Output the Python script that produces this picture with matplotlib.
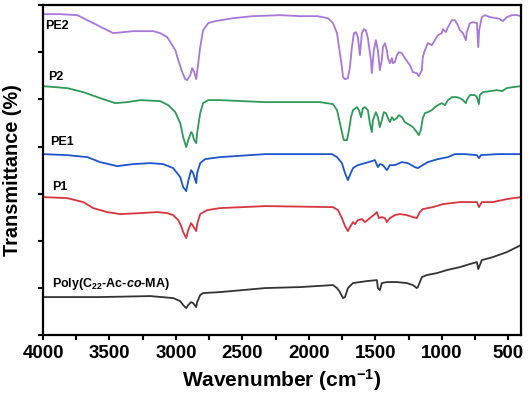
import numpy as np
from matplotlib import pyplot as plt

plt.rcParams['font.family'] = ['Liberation Sans', 'DejaVu Sans']
plt.rcParams['font.weight'] = 'bold'
plt.rcParams['mathtext.fontset'] = 'custom'
plt.rcParams['mathtext.rm'] = 'Liberation Sans:bold'
plt.rcParams['mathtext.bf'] = 'Liberation Sans:bold'
plt.rcParams['mathtext.it'] = 'Liberation Sans:bold:italic'

# spectra (wavenumber, stacked transmittance in arbitrary units)
pe2_wn = [4000, 3870, 3742, 3667, 3592, 3517, 3472, 3397, 3322, 3247, 3171, 3118, 3066, 3005, 2983,
          2953, 2931, 2916, 2893, 2878, 2863, 2848, 2841, 2818, 2796, 2758, 2705, 2570, 2420, 2217,
          2067, 1939, 1857, 1819, 1789, 1774, 1752, 1744, 1729, 1707, 1692, 1677, 1662, 1647, 1632,
          1617, 1602, 1587, 1572, 1557, 1534, 1527, 1512, 1497, 1482, 1467, 1452, 1444, 1429, 1414,
          1406, 1391, 1376, 1369, 1354, 1339, 1324, 1301, 1279, 1241, 1218, 1189, 1174, 1151, 1144,
          1128, 1106, 1076, 1053, 1031, 1001, 993, 971, 955, 925, 903, 880, 865, 842, 820, 813, 790,
          767, 737, 727, 720, 700, 677, 639, 587, 564, 542, 512, 474, 437, 406]
pe2_t = [321, 321, 320, 315, 310, 305, 302, 303, 304, 304, 304, 302, 298, 285, 275,
         263, 256, 255, 260, 267, 263, 256, 263, 288, 305, 312, 314, 317, 319, 320,
         319, 319, 317, 312, 302, 288, 268, 258, 256, 257, 268, 288, 302, 303, 298,
         280, 302, 306, 305, 297, 275, 262, 285, 295, 285, 265, 275, 288, 292, 285,
         277, 272, 277, 272, 273, 280, 283, 282, 277, 270, 263, 262, 259, 265, 278,
         285, 292, 290, 295, 300, 302, 306, 303, 308, 315, 315, 310, 305, 302, 295, 303, 312,
         313, 312, 288, 305, 318, 320, 318, 317, 316, 314, 318, 320, 320, 319]

p2_wn = [4000, 3818, 3697, 3570, 3457, 3367, 3269, 3118, 3058, 3005, 2968, 2946, 2923, 2908, 2886,
         2878, 2863, 2848, 2841, 2818, 2796, 2758, 2668, 2330, 2067, 1917, 1819, 1789, 1767, 1744,
         1737, 1714, 1699, 1684, 1669, 1639, 1624, 1609, 1594, 1579, 1557, 1542, 1527, 1519, 1497,
         1482, 1467, 1452, 1437, 1421, 1406, 1391, 1376, 1361, 1339, 1324, 1301, 1279, 1241, 1218,
         1189, 1174, 1159, 1144, 1128, 1106, 1076, 1053, 1031, 1001, 978, 955, 925, 888, 865, 842,
         820, 813, 790, 752, 737, 722, 715, 692, 639, 587, 549, 512, 467, 406]
p2_t = [249, 247, 243, 237, 232, 233, 235, 234, 230, 223, 212, 198, 188, 195, 203,
        202, 195, 192, 202, 222, 232, 235, 235, 233, 233, 233, 231, 225, 212, 198,
        195, 195, 205, 218, 225, 228, 225, 218, 227, 228, 225, 212, 203, 215, 223,
        218, 208, 215, 223, 222, 217, 213, 218, 215, 217, 220, 218, 213, 210, 208,
        203, 200, 205, 217, 222, 223, 225, 228, 230, 232, 230, 235, 238, 238, 237, 235,
        232, 235, 240, 240, 238, 231, 240, 243, 244, 245, 244, 247, 248, 249]

pe1_wn = [4000, 3818, 3667, 3570, 3442, 3322, 3193, 3096, 3021, 2968, 2946, 2923, 2908, 2886, 2871,
          2848, 2841, 2818, 2781, 2668, 2330, 1827, 1789, 1752, 1729, 1707, 1692, 1669, 1632, 1579,
          1527, 1504, 1482, 1467, 1444, 1414, 1391, 1354, 1301, 1256, 1204, 1181, 1144, 1106, 1031,
          955, 903, 828, 737, 722, 707, 579, 406]
pe1_t = [181, 180, 178, 173, 169, 171, 172, 171, 167, 158, 148, 144, 154, 165, 162,
         152, 162, 172, 176, 178, 181, 181, 178, 172, 162, 155, 160, 167, 170, 172,
         174, 175, 168, 171, 170, 165, 170, 170, 173, 172, 168, 167, 170, 173, 176,
         178, 181, 181, 180, 177, 180, 181, 181]

p1_wn = [4000, 3818, 3697, 3622, 3517, 3419, 3269, 3141, 3066, 3021, 2983, 2961, 2946, 2923, 2908,
         2886, 2871, 2848, 2841, 2818, 2766, 2668, 2330, 1819, 1782, 1752, 1729, 1707, 1692, 1669,
         1654, 1632, 1602, 1579, 1542, 1504, 1489, 1474, 1452, 1429, 1414, 1391, 1354, 1316, 1264,
         1218, 1189, 1166, 1144, 1068, 993, 865, 737, 722, 700, 617, 512, 406]
p1_t = [138, 137, 133, 127, 123, 121, 122, 123, 122, 120, 115, 109, 103, 97, 105,
        112, 109, 104, 111, 121, 125, 127, 129, 128, 125, 117, 109, 104, 108, 113,
        111, 115, 116, 113, 117, 121, 123, 117, 118, 117, 113, 117, 120, 121, 120,
        118, 117, 123, 126, 128, 131, 133, 133, 128, 133, 133, 136, 138]

poly_wn = [4000, 3570, 3193, 3021, 2968, 2946, 2923, 2908, 2886, 2871, 2848, 2841, 2818, 2796, 2668,
           2330, 2067, 1819, 1789, 1767, 1744, 1729, 1707, 1669, 1564, 1489, 1482, 1467, 1452, 1414,
           1339, 1264, 1218, 1189, 1181, 1151, 1114, 1038, 963, 865, 790, 737, 727, 715, 700, 617,
           512, 406]
poly_t = [38, 38, 39, 37, 34, 30, 27, 30, 33, 32, 28, 33, 40, 42, 43,
          47, 48, 50, 47, 43, 37, 38, 47, 52, 54, 55, 47, 45, 52, 53,
          53, 52, 50, 47, 48, 58, 60, 62, 65, 68, 71, 73, 66, 70, 75, 78,
          83, 90]

names = ['PE2', 'P2', 'PE1', 'P1', r'Poly(C$_{22}$-Ac-$\mathit{co}$-MA)']
colors = ['#A777DA', '#2E9A58', '#1D55CF', '#D8343F', '#333333']
label_pos = [(3985, 309), (3962, 258), (3948, 193), (3932, 148), (3932, 51)]

fig = plt.figure(figsize=(5.29, 3.97), dpi=100)
ax = fig.add_axes([0.0813, 0.156, 0.9037, 0.831])

series = [(pe2_wn, pe2_t), (p2_wn, p2_t), (pe1_wn, pe1_t), (p1_wn, p1_t), (poly_wn, poly_t)]
for (wn, t), col in zip(series, colors):
    ax.plot(wn, t, color=col, lw=1.3)

for name, (x, y) in zip(names, label_pos):
    ax.text(x, y, name, fontsize=9, fontweight='bold', ha='left', va='center')

ax.set_xlim(4000, 405)
ax.set_ylim(0, 330)
ax.set_xticks([4000, 3500, 3000, 2500, 2000, 1500, 1000, 500])
ax.set_xticks(np.arange(3750, 400, -500), minor=True)
ax.set_yticks(np.linspace(0, 330, 8))
ax.set_yticklabels([])
ax.tick_params(axis='both', which='both', direction='out', width=1.5, length=3.5,
               top=False, right=False)
ax.tick_params(axis='x', labelsize=13.5, pad=4)
for lbl in ax.get_xticklabels():
    lbl.set_fontweight('bold')
for s in ax.spines.values():
    s.set_linewidth(1.6)

ax.set_xlabel('Wavenumber (cm$^{-1}$)', fontsize=15, fontweight='bold', labelpad=3)
ax.set_ylabel('Transmittance (%)', fontsize=14.3, fontweight='bold', labelpad=8)

fig.savefig('out.png', dpi=100)
